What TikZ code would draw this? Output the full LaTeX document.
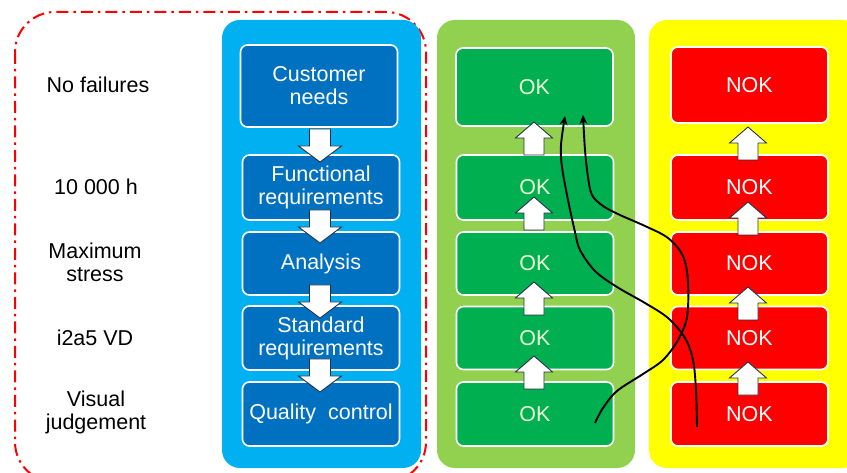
\documentclass[tikz,border=0pt]{standalone}
\usepackage{fontspec}
\setmainfont{Liberation Sans}
\usetikzlibrary{arrows.meta}
\definecolor{panelblue}{RGB}{0,176,240}
\definecolor{boxblue}{RGB}{0,112,192}
\definecolor{panelgreen}{RGB}{146,208,80}
\definecolor{boxgreen}{RGB}{0,176,80}
\definecolor{panelyellow}{RGB}{255,255,0}
\definecolor{boxred}{RGB}{255,0,0}
\definecolor{oktext}{RGB}{235,255,215}
\definecolor{arrowedge}{RGB}{40,50,70}
\tikzset{
  panel/.style={rounded corners=18pt},
  stagebox/.style={draw=white, line width=1.6pt, rounded corners=7pt, minimum width=157pt,
    inner sep=0pt, align=center, font=\fontsize{21.5}{23}\selectfont, text=white},
  bluebox/.style={stagebox, fill=boxblue},
  greenbox/.style={stagebox, fill=boxgreen, text=oktext},
  redbox/.style={stagebox, fill=boxred},
  lefttext/.style={align=center, font=\fontsize{21.5}{23}\selectfont, text=black},
  arrowline/.style={draw=arrowedge, fill=white, line width=0.9pt, line join=miter},
  pics/barrow/.style 2 args={code={
    \draw[arrowline] (0,0) -- (-#1,-16) -- (-#2,-16) -- (-#2,-33) -- (#2,-33) -- (#2,-16) -- (#1,-16) -- cycle;}},
  curve/.style={black, line width=1.9pt, -{Stealth[length=9pt,width=8pt]}, smooth, tension=0.55},
  dashframe/.style={draw=red, line width=2pt, rounded corners=40pt, dash pattern=on 12pt off 5pt on 2.5pt off 5pt}
}
\begin{document}
\begin{tikzpicture}[x=1pt,y=-1pt]
\useasboundingbox (0,0) rectangle (847,473);
\clip (0,0) rectangle (847,473);
\fill[white] (0,0) rectangle (847,473);

% dashed frame
\draw[dashframe] (15,12) rectangle (426,482);

% panels
\fill[panelblue, panel] (222,20) rectangle (421,468);
\fill[panelgreen, panel] (437,20) rectangle (635,468);
\fill[panelyellow, panel] (649,20) rectangle (860,468);

% left labels
\node[lefttext] (l1) at (98,85) {No failures};
\node[lefttext] (l2) at (96,187) {10 000 h};
\node[lefttext] (l3) at (95,262) {Maximum\\stress};
\node[lefttext] (l4) at (95,338) {i2a5 VD};
\node[lefttext] (l5) at (96,412) {Visual\\judgement};

% blue boxes
\node[bluebox, minimum height=82pt] (b1) at (319,86) {Customer\\needs};
\node[bluebox, minimum height=65pt] (b2) at (321,187.5) {Functional\\requirements};
\node[bluebox, minimum height=63pt] (b3) at (321,263.5) {Analysis};
\node[bluebox, minimum height=64pt] (b4) at (321,338) {Standard\\requirements};
\node[bluebox, minimum height=64pt] (b5) at (321,414) {Quality\ \ control};

% green boxes
\node[greenbox, minimum height=78pt] (g1) at (534.5,87) {OK};
\node[greenbox, minimum height=65pt] (g2) at (535,187.5) {OK};
\node[greenbox, minimum height=63pt] (g3) at (535,263.5) {OK};
\node[greenbox, minimum height=63pt] (g4) at (535,338) {OK};
\node[greenbox, minimum height=64pt] (g5) at (535,414) {OK};

% red boxes
\node[redbox, minimum height=76pt] (r1) at (749.5,85) {NOK};
\node[redbox, minimum height=65pt] (r2) at (749.5,187.5) {NOK};
\node[redbox, minimum height=63pt] (r3) at (749.5,263.5) {NOK};
\node[redbox, minimum height=63pt] (r4) at (749.5,338) {NOK};
\node[redbox, minimum height=64pt] (r5) at (749.5,414) {NOK};

% block arrows (blue: downward)
\pic at (320,162) {barrow={21.5}{10.5}};
\pic at (320,243) {barrow={21.5}{10.5}};
\pic at (320,318) {barrow={21.5}{10.5}};
\pic at (320,392) {barrow={21.5}{10.5}};
% green: upward
\pic[rotate=180] at (534,122) {barrow={18.5}{10}};
\pic[rotate=180] at (534,197) {barrow={18.5}{10}};
\pic[rotate=180] at (534,282) {barrow={18.5}{10}};
\pic[rotate=180] at (534,356) {barrow={18.5}{10}};
% yellow: upward
\pic[rotate=180] at (748,127) {barrow={18.5}{10}};
\pic[rotate=180] at (748,202) {barrow={18.5}{10}};
\pic[rotate=180] at (748,287) {barrow={18.5}{10}};
\pic[rotate=180] at (748,362) {barrow={18.5}{10}};

% hand-drawn curves
\coordinate (sA) at (595,423);
\coordinate (eA) at (583,115);
\coordinate (sB) at (697,427);
\coordinate (eB) at (565,116);
\draw[curve] plot coordinates {(sA) (603,408) (617,391) (643,374) (663,360) (678,340) (687,317) (688,282) (683,256) (668,238) (645,226) (620,215) (603,206) (592,195) (588,177) (585,150) (eA)};
\draw[curve] plot coordinates {(sB) (696,390) (693,360) (685,338) (668,318) (645,303) (617,287) (595,271) (580,250) (575,232) (568,200) (562,167) (561,145) (eB)};
\end{tikzpicture}
\end{document}
